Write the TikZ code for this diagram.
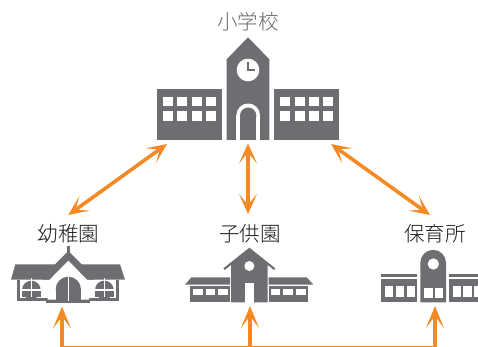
\documentclass[tikz,border=0pt]{standalone}
\usepackage{fontspec}
\setmainfont{Noto Sans CJK JP Light}
\usetikzlibrary{arrows.meta}
\definecolor{bldg}{HTML}{6D6E71}
\definecolor{org}{HTML}{F58A24}
\tikzset{
  lab/.style={font=\fontsize{20.5}{20.5}\selectfont,text=#1,inner sep=0pt},
  dark/.style={fill=bldg,draw=none},
  hole/.style={fill=white,draw=none},
  dbl/.style={draw=org,line width=3.6pt,{Stealth[length=20pt,width=18pt,inset=11pt]}-{Stealth[length=20pt,width=18pt,inset=11pt]}},
  upar/.style={draw=org,line width=4.6pt,-{Stealth[length=22pt,width=18pt,inset=12pt]}},
  bus/.style={draw=org,line width=1.4pt},
  zm/.style={shift={#1},x=0.33333pt,y=-0.33333pt}
}
\begin{document}
\begin{tikzpicture}[x=1pt,y=-1pt]
\useasboundingbox (0,0) rectangle (478,347);
% labels
\node[lab=black!60] (school) at (248,22) {小学校};
\node[lab=black!90] (kinder) at (68.6,234) {幼稚園};
\node[lab=black!90] (child) at (250,234) {子供園};
\node[lab=black!90] (nursery) at (435,234) {保育所};
% school
\begin{scope}[zm={(140,0)}]
  \fill[dark] (260,178) -- (324,112) -- (388,178) -- (388,420) -- (260,420) -- cycle;
  \fill[hole] (324,210) circle (34);
  \fill[dark] (321,186) rectangle (327,213);
  \fill[dark] (321,208) rectangle (346,214);
  \fill[dark] (52,267) rectangle (245,420);
  \fill[dark] (403,267) rectangle (596,420);
  \foreach \x in {69,112,155,197}{
    \fill[hole] (\x,290) rectangle +(30,28);
    \fill[hole] (\x,333) rectangle +(30,29);}
  \foreach \x in {421,464,507,550}{
    \fill[hole] (\x,290) rectangle +(30,28);
    \fill[hole] (\x,333) rectangle +(30,29);}
  \fill[hole] (289,346) rectangle (360,420);
  \fill[hole] (324.5,346) circle (35.5);
  \fill[dark] (300,347) rectangle (349,420);
  \fill[dark] (324.5,347) circle (24.5);
\end{scope}
% kindergarten
\begin{scope}[zm={(0,215)}]
  \fill[dark] (201,93) rectangle (209,118);
  \fill[dark] (46,148) -- (360,148) -- (375,194) -- (33,194) -- cycle;
  \fill[dark] (205,108) -- (163,150) -- (128,194) -- (282,194) -- (247,150) -- cycle;
  \fill[hole] (60,194) rectangle (138,253);
  \fill[hole] (270,194) rectangle (348,253);
  \fill[dark] (52,194) rectangle (60,258);
  \fill[dark] (348,194) rectangle (356,258);
  \fill[dark] (52,249) rectangle (356,258);
  \fill[dark] (138,254) rectangle (270,263);
  \foreach \c in {94,313}{
    \fill[dark] (\c-28,225) rectangle (\c+28,245);
    \fill[dark] (\c,225) circle (28);
    \fill[hole] (\c-2.5,190) rectangle (\c+2.5,246);
    \fill[hole] (\c-30,222) rectangle (\c+30,227);
  }
  \fill[hole] (205,137) -- (143,200) -- (143,254) -- (267,254) -- (267,200) -- cycle;
  \fill[dark] (167,223) rectangle (243,258);
  \fill[dark] (205,223) circle (38);
  \fill[hole] (202.5,180) rectangle (207.5,258);
\end{scope}
% child centre
\begin{scope}[zm={(170,215)}]
  \fill[dark] (238,98) -- (316,160) -- (312,165) -- (293,150) -- (293,262) -- (183,262) -- (183,150) -- (164,165) -- (160,160) -- cycle;
  \fill[hole] (238,153) circle (15);
  \fill[hole] (224,203) rectangle (252,263);
  \fill[dark] (64,187) -- (180,187) -- (180,209) -- (45,209) -- cycle;
  \fill[dark] (296,187) -- (410,187) -- (430,209) -- (296,209) -- cycle;
  \fill[dark] (60,213) rectangle (180,262);
  \fill[dark] (296,213) rectangle (414,262);
  \foreach \x in {69,107,145,302,340,378}{
    \fill[hole] (\x,221) rectangle +(29,19);}
\end{scope}
% nursery
\begin{scope}[zm={(350,215)}]
  \fill[dark] (211,262) -- (211,143) arc[start angle=180,end angle=360,radius=38.5] -- (288,262) -- cycle;
  \fill[hole] (250,147) circle (17);
  \fill[hole] (222,218) rectangle (248,250);
  \fill[hole] (254,218) rectangle (279,250);
  \fill[dark] (92,178) rectangle (202,187);
  \fill[dark] (92,192) rectangle (202,262);
  \fill[dark] (297,178) rectangle (384,187);
  \fill[dark] (297,192) rectangle (384,262);
  \foreach \x in {105,138,170,308,340,372}{
    \fill[hole] (\x,213) rectangle +(25,32);}
\end{scope}
% connector anchors
\coordinate (sL) at (167,144);
\coordinate (kT) at (68.3,215);
\coordinate (sC) at (248,143.5);
\coordinate (cT) at (248,214);
\coordinate (sR) at (331,144);
\coordinate (nT) at (430,215);
\coordinate (kB) at (62,306.5);
\coordinate (cB) at (250,306);
\coordinate (nB) at (435,306);
\coordinate (kF) at (62,347);
\coordinate (cF) at (250,347);
\coordinate (nF) at (435,347);
\coordinate (busL) at (60,346.3);
\coordinate (busR) at (437,346.3);
\draw[dbl] (sL) -- (kT);
\draw[dbl] (sC) -- (cT);
\draw[dbl] (sR) -- (nT);
\draw[bus] (busL) -- (busR);
\draw[upar] (kF) -- (kB);
\draw[upar] (cF) -- (cB);
\draw[upar] (nF) -- (nB);
\end{tikzpicture}
\end{document}
